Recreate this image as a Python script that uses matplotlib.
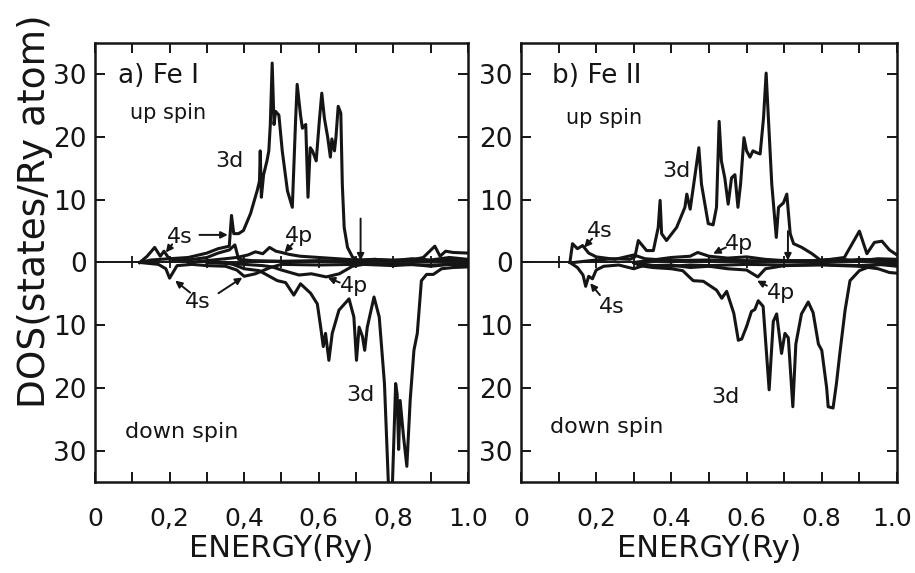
import matplotlib
matplotlib.use('Agg')
import matplotlib.pyplot as plt
import matplotlib.transforms as mtransforms
import numpy as np

plt.rcParams['font.family'] = ['DejaVu Sans']

# ---- a) Fe I ----
e_a_up3d = [0.12, 0.15, 0.2, 0.25, 0.3, 0.33, 0.36, 0.366, 0.372, 0.385, 0.398, 0.417, 0.435, 0.441, 0.443,
            0.446, 0.452, 0.461, 0.466, 0.47, 0.475, 0.48, 0.484, 0.493, 0.502, 0.516, 0.529, 0.538, 0.542,
            0.551, 0.556, 0.565, 0.571, 0.577, 0.583, 0.593, 0.602, 0.608, 0.615, 0.624, 0.631, 0.635, 0.642,
            0.646, 0.652, 0.659, 0.663, 0.668, 0.677, 0.69, 0.704, 0.72, 0.75, 0.8, 0.85, 0.9, 0.95, 1.0]
d_a_up3d = [0, 0.4, 0.6, 0.8, 1.5, 2.2, 2.6, 7.5, 4.6, 4.6, 5.1, 7.8, 11.5, 13, 17.8,
            10.4, 14, 16.2, 17.8, 22, 31.8, 22, 24.1, 23.5, 17.8, 11.4, 8.8, 23, 28.4,
            23.5, 21.4, 22, 10.4, 18.3, 17.8, 16.2, 23, 27, 23, 19.9, 16.8, 19.7, 17.8,
            20, 24.9, 23.8, 12.5, 5.6, 2.4, 0.9, 0.4, 0.3, 0.5, 0.3, 0.6, 0.4, 0.8, 0.5]
e_a_up4s = [0.12, 0.14, 0.16, 0.175, 0.185, 0.2, 0.25, 0.3, 0.33, 0.36, 0.375, 0.385, 0.42, 0.5, 0.6, 0.7, 0.8, 0.9, 1.0]
d_a_up4s = [0, 1.0, 2.4, 1.0, 1.8, 0.5, 0.4, 0.8, 1.5, 2.0, 2.8, 0.5, 0.3, 0.2, 0.3, 0.2, 0.4, 0.3, 0.4]
e_a_up4p = [0.25, 0.3, 0.35, 0.38, 0.41, 0.43, 0.45, 0.468, 0.485, 0.5, 0.52, 0.55, 0.6, 0.65, 0.7, 0.75, 0.8,
            0.85, 0.88, 0.911, 0.925, 0.94, 0.96, 1.0]
d_a_up4p = [0, 0.3, 0.6, 0.8, 1.2, 1.7, 1.4, 2.4, 1.8, 1.6, 1.3, 1.0, 0.8, 0.6, 0.4, 0.5, 0.3,
            0.4, 0.8, 2.6, 1.0, 1.8, 1.6, 1.5]
e_a_dn3d = [0.35, 0.37, 0.4, 0.44, 0.489, 0.511, 0.533, 0.551, 0.578, 0.596, 0.605, 0.612, 0.618, 0.627, 0.636,
            0.654, 0.681, 0.694, 0.701, 0.708, 0.717, 0.723, 0.73, 0.748, 0.762, 0.776, 0.787, 0.797, 0.806,
            0.81, 0.814, 0.818, 0.827, 0.836, 0.845, 0.855, 0.864, 0.875, 0.889, 0.907, 0.929, 0.96, 1.0]
d_a_dn3d = [0, 0.3, 1.0, 1.3, 2.9, 3.2, 5.2, 3.4, 4.9, 6.6, 10.3, 13.4, 11.3, 15.6, 11.3,
            7.6, 5.8, 8.7, 15.6, 10.3, 11.8, 14, 10.3, 5.5, 8.7, 19.3, 36, 36, 19.3,
            21, 29.8, 22, 27.7, 32.5, 21.9, 14, 11.3, 2.9, 1.9, 1.9, 1.0, 0.8, 0.7]
e_a_dn4s = [0.12, 0.17, 0.19, 0.2, 0.21, 0.22, 0.26, 0.3, 0.35, 0.38, 0.4, 0.43, 0.47, 0.5, 0.6, 0.7, 0.8, 0.9, 1.0]
d_a_dn4s = [0, 0.3, 1.0, 2.5, 1.5, 0.5, 0.3, 0.5, 0.6, 1.2, 2.2, 1.8, 0.8, 0.3, 0.4, 0.3, 0.3, 0.4, 0.2]
e_a_dn4p = [0.3, 0.4, 0.45, 0.475, 0.5, 0.547, 0.58, 0.62, 0.655, 0.69, 0.72, 0.8, 0.85, 0.9, 0.95, 1.0]
d_a_dn4p = [0, 0.3, 0.5, 0.7, 1.2, 2.0, 1.8, 2.3, 1.8, 0.6, 0.3, 0.5, 0.3, 0.6, 0.3, 0.5]

# ---- b) Fe II ----
e_b_up3d = [0.14, 0.2, 0.25, 0.29, 0.303, 0.312, 0.334, 0.352, 0.365, 0.37, 0.374, 0.387, 0.414, 0.436, 0.441,
            0.45, 0.463, 0.473, 0.48, 0.498, 0.511, 0.52, 0.527, 0.533, 0.542, 0.551, 0.56, 0.569, 0.577,
            0.584, 0.593, 0.6, 0.609, 0.617, 0.627, 0.636, 0.645, 0.652, 0.658, 0.667, 0.679, 0.685, 0.698,
            0.707, 0.716, 0.725, 0.747, 0.774, 0.796, 0.83, 0.87, 0.9, 0.95, 1.0]
d_b_up3d = [0, 0.4, 0.6, 0.5, 0.9, 3.5, 1.9, 1.9, 5.6, 9.9, 4.6, 3.5, 5.6, 8.8, 10.9,
            8.5, 14, 18.3, 12.5, 6.2, 6.0, 8.8, 22.5, 16.2, 13.5, 9.3, 13.5, 14, 8.8,
            12.5, 19.9, 17.8, 16.8, 17.8, 17.5, 17.3, 23, 30.2, 23, 12.5, 4.0, 8.8, 9.5,
            10.9, 4.6, 3.0, 2.4, 1.4, 0.4, 0.5, 0.3, 0.5, 0.4, 0.3]
e_b_up4s = [0.13, 0.137, 0.15, 0.164, 0.18, 0.2, 0.25, 0.3, 0.33, 0.4, 0.5, 0.6, 0.7, 0.8, 0.86, 0.9, 0.92,
            0.94, 0.96, 0.98, 1.0]
d_b_up4s = [0, 3.0, 2.2, 2.7, 1.5, 0.9, 0.5, 1.2, 0.6, 0.3, 0.4, 0.3, 0.2, 0.3, 0.8, 5.0, 1.4,
            3.2, 3.4, 2.0, 1.2]
e_b_up4p = [0.3, 0.35, 0.4, 0.45, 0.47, 0.5, 0.55, 0.6, 0.65, 0.7, 0.8, 0.85, 0.9, 0.95, 1.0]
d_b_up4p = [0, 0.4, 0.8, 1.0, 1.6, 1.0, 0.7, 0.9, 0.5, 0.3, 0.3, 0.5, 0.3, 0.6, 0.5]
e_b_dn3d = [0.3, 0.316, 0.35, 0.4, 0.43, 0.458, 0.485, 0.52, 0.534, 0.547, 0.566, 0.578, 0.587, 0.6, 0.613,
            0.622, 0.631, 0.644, 0.66, 0.671, 0.68, 0.693, 0.702, 0.711, 0.723, 0.731, 0.746, 0.764, 0.777,
            0.791, 0.8, 0.813, 0.817, 0.83, 0.839, 0.848, 0.862, 0.875, 0.9, 0.934, 0.96, 1.0]
d_b_dn3d = [0, 0.5, 0.8, 1.0, 1.3, 2.9, 3.0, 4.4, 5.7, 4.6, 8.1, 12.4, 12.2, 10.2, 7.8,
            7.5, 6.1, 7.0, 20.3, 9.4, 8.2, 14.5, 11.3, 12, 23, 13, 8.2, 6.3, 8,
            13, 14, 20, 23, 23.2, 19.3, 14.5, 7.6, 2.9, 1.3, 0.5, 0.3, 0.3]
e_b_dn4s = [0.13, 0.15, 0.165, 0.172, 0.18, 0.19, 0.2, 0.22, 0.26, 0.3, 0.33, 0.4, 0.45, 0.5, 0.6, 0.7, 0.8,
            0.9, 0.95, 1.0]
d_b_dn4s = [0, 0.8, 2.0, 3.8, 2.2, 2.6, 1.2, 0.6, 0.4, 1.0, 0.4, 0.6, 0.4, 0.5, 0.3, 0.4, 0.3,
            0.5, 0.3, 0.6]
e_b_dn4p = [0.3, 0.35, 0.4, 0.45, 0.5, 0.55, 0.6, 0.63, 0.65, 0.7, 0.8, 0.9, 0.95, 0.98, 1.0]
d_b_dn4p = [0, 0.5, 0.4, 0.8, 0.6, 1.0, 1.2, 2.3, 1.0, 0.5, 0.4, 0.6, 1.0, 1.6, 1.7]

ytick_vals = [-30, -20, -10, 0, 10, 20, 30]
xtick_vals = [0, 0.2, 0.4, 0.6, 0.8, 1.0]
xlabels_a = ['0', '0,2', '0,4', '0,6', '0,8', '1.0']
xlabels_b = ['0', '0,2', '0.4', '0.6', '0.8', '1.0']
zero_marks = [0.1, 0.2, 0.3, 0.4, 0.5, 0.6, 0.7, 0.8, 0.9]
fermi_a = 0.712
fermi_b = 0.71

tick_fs = 19
xtick_fs = 18
text_fs = 15
INK = '#151515'
LW = 2.2

fig = plt.figure(figsize=(9.15, 5.73), dpi=100)
ax_a = fig.add_axes([0.1038, 0.1588, 0.4077, 0.7662])
ax_b = fig.add_axes([0.5694, 0.1588, 0.4109, 0.7662])


def arrow(ax, text_xy, tip_xy):
    ax.annotate('', xy=tip_xy, xytext=text_xy,
                arrowprops=dict(arrowstyle='-|>', color=INK, lw=1.4, mutation_scale=10,
                                shrinkA=0, shrinkB=0))


def setup(ax, xlabels):
    ax.set_xlim(0, 1.0)
    ax.set_ylim(-35, 35)
    ax.set_xticks(xtick_vals)
    ax.set_xticklabels(xlabels, fontsize=xtick_fs)
    ax.set_xticks(np.arange(0.1, 1.0, 0.2), minor=True)
    ax.set_yticks(ytick_vals)
    ax.set_yticklabels([str(abs(v)) for v in ytick_vals], fontsize=tick_fs)
    ax.tick_params(which='both', direction='in', top=True, right=True, length=7, width=1.4,
                   color=INK, labelcolor=INK, pad=6)
    ax.tick_params(axis='x', which='both', pad=18)
    for s in ax.spines.values():
        s.set_linewidth(1.8)
        s.set_color(INK)
    ax.set_xlabel('ENERGY(Ry)', fontsize=22, color=INK, labelpad=2)
    ax.axhline(0, color=INK, lw=1.4)
    ax.plot(zero_marks, [0] * len(zero_marks), '|', color=INK, ms=8, mew=1.3)


# a) Fe I
setup(ax_a, xlabels_a)
for e, d in [(e_a_up3d, d_a_up3d), (e_a_up4s, d_a_up4s), (e_a_up4p, d_a_up4p)]:
    ax_a.plot(e, d, color=INK, lw=LW)
for e, d in [(e_a_dn3d, d_a_dn3d), (e_a_dn4s, d_a_dn4s), (e_a_dn4p, d_a_dn4p)]:
    ax_a.plot(e, -np.array(d), color=INK, lw=LW)

ax_a.text(0.062, 29.7, 'a) Fe I', fontsize=19, va='center', ha='left', color=INK)
ax_a.text(0.094, 23.8, 'up spin', fontsize=text_fs, va='center', ha='left', color=INK)
ax_a.text(0.081, -27, 'down spin', fontsize=16, va='center', ha='left', color=INK)
ax_a.text(0.36, 16.2, '3d', fontsize=16, va='center', ha='center', color=INK)
ax_a.text(0.712, -21.1, '3d', fontsize=16, va='center', ha='center', color=INK)
ax_a.text(0.228, 4.1, '4s', fontsize=16, va='center', ha='center', color=INK)
arrow(ax_a, (0.28, 4.4), (0.356, 4.4))
arrow(ax_a, (0.207, 2.9), (0.19, 1.6))
ax_a.text(0.546, 4.3, '4p', fontsize=16, va='center', ha='center', color=INK)
arrow(ax_a, (0.53, 3.0), (0.508, 1.6))
ax_a.text(0.277, -6.3, '4s', fontsize=16, va='center', ha='center', color=INK)
arrow(ax_a, (0.255, -4.8), (0.215, -2.9))
arrow(ax_a, (0.331, -4.9), (0.395, -2.4))
ax_a.text(0.694, -3.7, '4p', fontsize=16, va='center', ha='center', color=INK)
arrow(ax_a, (0.656, -3.2), (0.624, -2.4))
arrow(ax_a, (fermi_a, 7.0), (fermi_a, 0.3))

# b) Fe II
setup(ax_b, xlabels_b)
# 最右邊的 1.0 靠右對齊, 避免被圖邊裁掉
last = ax_b.get_xticklabels()[-1]
last.set_horizontalalignment('right')
last.set_transform(last.get_transform() + mtransforms.ScaledTranslation(0.15, 0, fig.dpi_scale_trans))
for e, d in [(e_b_up3d, d_b_up3d), (e_b_up4s, d_b_up4s), (e_b_up4p, d_b_up4p)]:
    ax_b.plot(e, d, color=INK, lw=LW)
for e, d in [(e_b_dn3d, d_b_dn3d), (e_b_dn4s, d_b_dn4s), (e_b_dn4p, d_b_dn4p)]:
    ax_b.plot(e, -np.array(d), color=INK, lw=LW)

ax_b.text(0.082, 29.7, 'b) Fe II', fontsize=19, va='center', ha='left', color=INK)
ax_b.text(0.12, 23.0, 'up spin', fontsize=text_fs, va='center', ha='left', color=INK)
ax_b.text(0.077, -26.3, 'down spin', fontsize=16, va='center', ha='left', color=INK)
ax_b.text(0.412, 14.6, '3d', fontsize=16, va='center', ha='center', color=INK)
ax_b.text(0.543, -21.4, '3d', fontsize=16, va='center', ha='center', color=INK)
ax_b.text(0.21, 5.1, '4s', fontsize=16, va='center', ha='center', color=INK)
arrow(ax_b, (0.189, 3.8), (0.168, 2.4))
ax_b.text(0.58, 3.0, '4p', fontsize=16, va='center', ha='center', color=INK)
arrow(ax_b, (0.545, 2.4), (0.511, 1.4))
ax_b.text(0.242, -7.1, '4s', fontsize=16, va='center', ha='center', color=INK)
arrow(ax_b, (0.21, -5.2), (0.184, -3.3))
ax_b.text(0.691, -4.8, '4p', fontsize=16, va='center', ha='center', color=INK)
arrow(ax_b, (0.654, -3.7), (0.628, -2.9))
arrow(ax_b, (fermi_b, 5.0), (fermi_b, 0.3))

fig.text(0.038, 0.632, 'DOS(states/Ry atom)', rotation=90, ha='center', va='center',
         fontsize=27, color=INK)

fig.savefig('out.png', dpi=100)
